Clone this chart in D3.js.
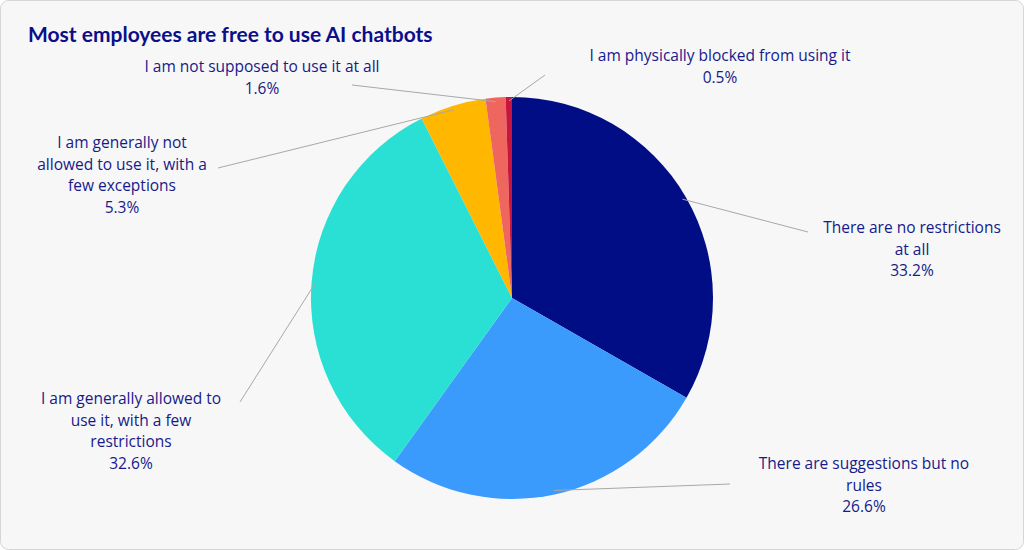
<!DOCTYPE html>
<html><head><meta charset="utf-8">
<script src="https://cdn.jsdelivr.net/npm/d3@7"></script>
<style>
body{margin:0;background:#fff;font-family:"Open Sans",Lato,sans-serif}
</style></head>
<body><svg id="chart" width="1024" height="550"></svg>
<script>
var categories = ["There are no restrictions at all", "There are suggestions but no rules",
  "I am generally allowed to use it, with a few restrictions",
  "I am generally not allowed to use it, with a few exceptions",
  "I am not supposed to use it at all", "I am physically blocked from using it"];
var values = [33.2, 26.6, 32.6, 5.3, 1.6, 0.5];
var colors = ["#000d85", "#3a9bfc", "#2adfd3", "#ffb700", "#ef665f", "#c8153f"];
var labelLines = [
  ["There are no restrictions", "at all"],
  ["There are suggestions but no", "rules"],
  ["I am generally allowed to", "use it, with a few", "restrictions"],
  ["I am generally not", "allowed to use it, with a", "few exceptions"],
  ["I am not supposed to use it at all"],
  ["I am physically blocked from using it"]
];
// label layout: text centre x, first baseline y, leader end point
var labelPos = [
  {x: 912, y: 233, lx: 808, ly: 232},
  {x: 864, y: 469, lx: 730, ly: 484},
  {x: 131, y: 404, lx: 240, ly: 402},
  {x: 122, y: 148, lx: 218, ly: 168},
  {x: 262, y: 72, lx: 352, ly: 85},
  {x: 720, y: 61, lx: 545, ly: 75}
];

var svg = d3.select("#chart");
svg.append("rect").attr("x", 0.5).attr("y", 0.5).attr("width", 1023).attr("height", 549)
  .attr("rx", 8).attr("fill", "#f7f7f7").attr("stroke", "#d6d6d6");

svg.append("text").attr("x", 28).attr("y", 42).attr("fill", "#0a0f8a")
  .attr("font-size", 21).attr("font-weight", 700).attr("font-family", "Lato, sans-serif")
  .text("Most employees are free to use AI chatbots");

var cx = 512, cy = 298, r = 201;
var pie = d3.pie().sort(null).value(d => d)(values);
var arc = d3.arc().innerRadius(0).outerRadius(r);
var g = svg.append("g").attr("transform", "translate(" + cx + "," + cy + ")");

g.selectAll("path").data(pie).enter().append("path")
  .attr("d", arc).attr("fill", (d, i) => colors[i]);

// leader lines
var edge = d3.arc().innerRadius(r * 0.98).outerRadius(r * 0.98);
g.selectAll("line.leader").data(pie).enter().append("line")
  .attr("class", "leader")
  .attr("x1", d => edge.centroid(d)[0]).attr("y1", d => edge.centroid(d)[1])
  .attr("x2", (d, i) => labelPos[i].lx - cx).attr("y2", (d, i) => labelPos[i].ly - cy)
  .attr("stroke", "#a8a8a8").attr("stroke-width", 1);

var lbl = svg.selectAll("text.lbl").data(pie).enter().append("text")
  .attr("class", "lbl").attr("text-anchor", "middle")
  .attr("fill", "#161a8a").attr("font-size", 15.5)
  .attr("x", (d, i) => labelPos[i].x).attr("y", (d, i) => labelPos[i].y);
lbl.each(function(d, i) {
  var t = d3.select(this);
  labelLines[i].concat([d3.format(".1f")(values[i]) + "%"]).forEach(function(s, j) {
    t.append("tspan").attr("x", labelPos[i].x).attr("dy", j ? 21.5 : 0).text(s);
  });
});
</script></body></html>
